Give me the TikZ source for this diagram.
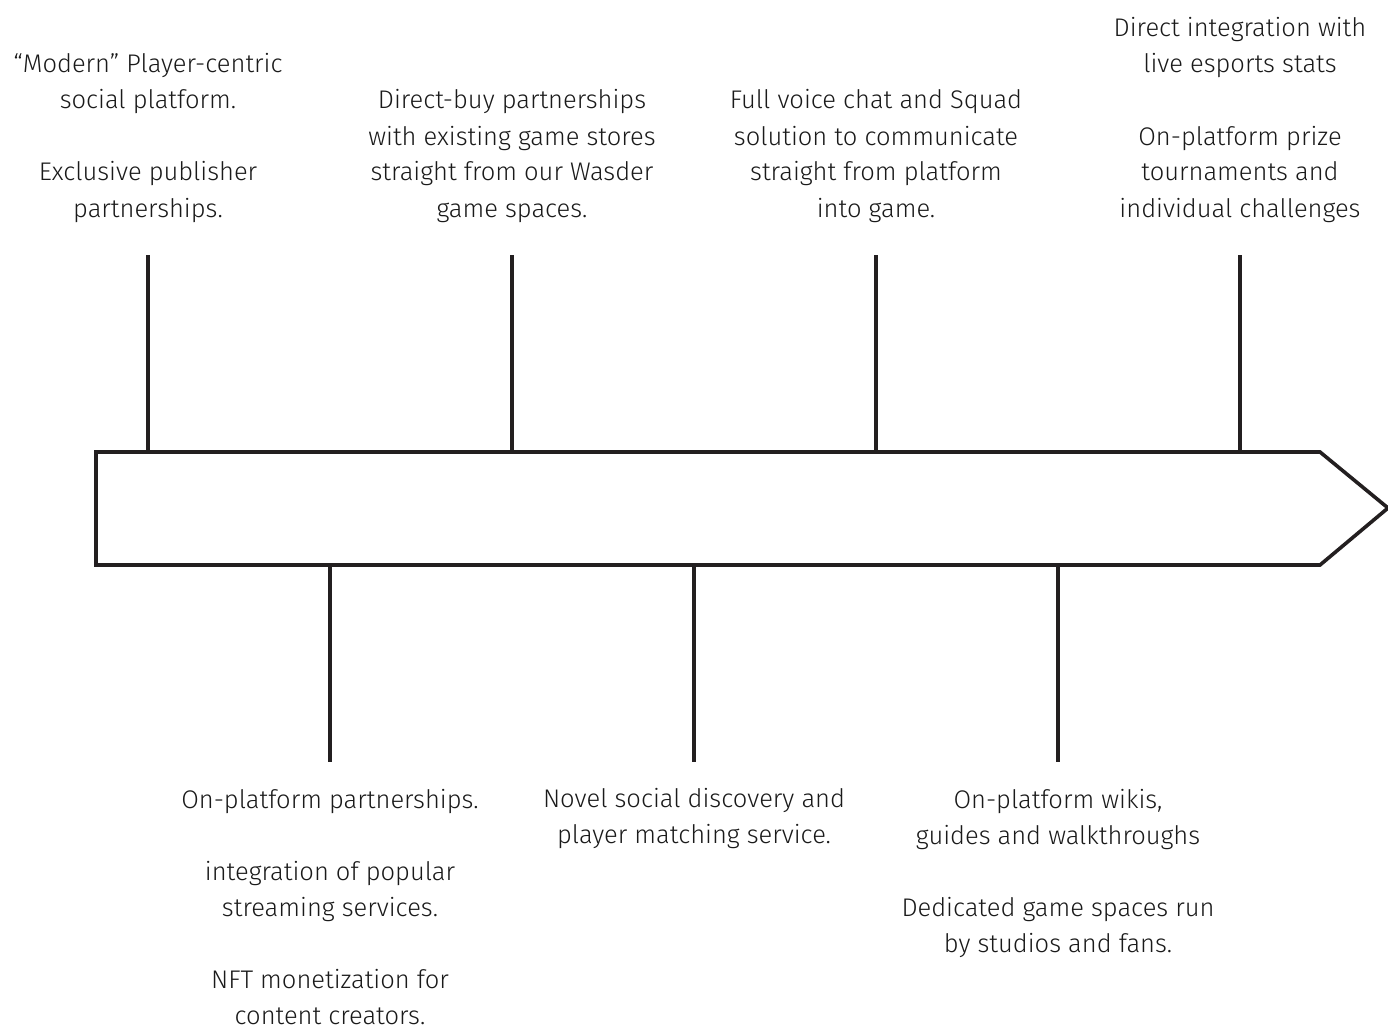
\documentclass[tikz,border=0pt]{standalone}
\usepackage{fontspec}
\setmainfont{Fira Sans}[UprightFont=* Light]
\definecolor{ink}{HTML}{231F20}
\definecolor{txt}{HTML}{1A1A1A}
\begin{document}
\begin{tikzpicture}[x=1pt,y=-1pt,
  line/.style={draw=ink,line width=3.6pt},
  label/.style={font=\fontsize{25.5}{36}\selectfont,text=txt,align=center,inner sep=0pt,anchor=base}]
\useasboundingbox (0,0) rectangle (1388,1027);
% timeline arrow
\draw[line,line join=miter] (96,452) -- (1320,452) -- (1388,508) -- (1320,565) -- (96,565) -- cycle;
% ticks above
\foreach \n/\x in {a/148,b/512,c/876,d/1240}{
  \coordinate (\n top) at (\x,255);
  \coordinate (\n bar) at (\x,452);
  \draw[line] (\n top) -- (\n bar);
}
% ticks below
\foreach \n/\x in {e/330,f/694,g/1058}{
  \coordinate (\n bar) at (\x,565);
  \coordinate (\n bot) at (\x,762);
  \draw[line] (\n bar) -- (\n bot);
}
% texts above
\node[label] (ta) at (148,217) {“Modern” Player-centric\\ social platform.\\[36pt] Exclusive publisher\\ partnerships.};
\node[label] (tb) at (512,217) {Direct-buy partnerships\\ with existing game stores\\ straight from our Wasder\\ game spaces.};
\node[label] (tc) at (876,217) {Full voice chat and Squad\\ solution to communicate\\ straight from platform\\ into game.};
\node[label] (td) at (1240,217) {Direct integration with\\ live esports stats\\[36pt] On-platform prize\\ tournaments and\\ individual challenges};
% texts below
\node[label] (te) at (330,1024) {On-platform partnerships.\\[36pt] integration of popular\\ streaming services.\\[36pt] NFT monetization for\\ content creators.};
\node[label] (tf) at (694,843) {Novel social discovery and\\ player matching service.};
\node[label] (tg) at (1058,952) {On-platform wikis,\\ guides and walkthroughs\\[36pt] Dedicated game spaces run\\ by studios and fans.};
\end{tikzpicture}
\end{document}
